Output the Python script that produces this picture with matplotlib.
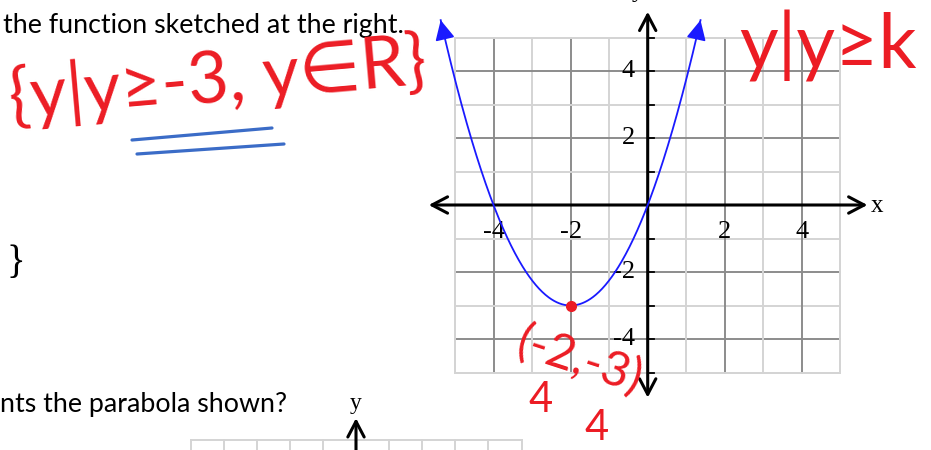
import numpy as np
import matplotlib.pyplot as plt
from matplotlib.lines import Line2D

# parabola y = a(x - h)^2 + k with vertex (-2, -3), passing through (0, 0) and (-4, 0)
h, k = -2, -3
a = 0.75
curve_x_ends = [-5.37, 1.37]

grid_ticks = list(range(-5, 6))
x_tick_labels = [-4, -2, 2, 4]
y_tick_labels = [4, 2, -2, -4]

red = '#ec1c24'
blue_pen = '#3b6cc7'
pen_font = ['Lato', 'DejaVu Sans']

W, H = 931, 450
fig = plt.figure(figsize=(W / 100, H / 100), dpi=100)

# pixel helper for figure-level text
def fx(x): return x / W
def fy(y): return 1 - y / H

# ---- main graph ----
ox, oy = 647.7, 205.0      # origin in pixels
ux, uy = 38.55, 33.5       # pixels per unit
ax = fig.add_axes([0, 0, 1, 1])
ax.set_xlim(-ox / ux, (W - ox) / ux)
ax.set_ylim((oy - H) / uy, oy / uy)
ax.axis('off')

for t in grid_ticks:
    if t == 0:
        continue
    c = '#8c8c8c' if t % 2 == 0 else '#d4d4d4'
    ax.plot([t, t], [-5, 5], color=c, lw=1.4, zorder=1)
    ax.plot([-5, 5], [t, t], color=c, lw=1.4, zorder=1)
ax.plot([-5, 5], [-5, -5], color='#d4d4d4', lw=1.4, zorder=1)
ax.plot([-5, 5], [5, 5], color='#d4d4d4', lw=1.4, zorder=1)
ax.plot([-5, -5], [-5, 5], color='#d4d4d4', lw=1.4, zorder=1)
ax.plot([5, 5], [-5, 5], color='#d4d4d4', lw=1.4, zorder=1)

axis_arrow = dict(arrowstyle='<->, head_length=0.8, head_width=0.42', lw=2.2,
                  color='black', mutation_scale=14, shrinkA=0, shrinkB=0)
ax.annotate('', xy=(-5.68, 0), xytext=(5.7, 0), arrowprops=axis_arrow, zorder=3)
ax.annotate('', xy=(0, -5.75), xytext=(0, 5.77), arrowprops=axis_arrow, zorder=3)

# small ticks on the y-axis
for t in grid_ticks:
    if t != 0:
        ax.plot([0, 0.16], [t, t], color='black', lw=1.3, zorder=3)

for t in x_tick_labels:
    ax.text(t, -0.8, str(t), family='Liberation Serif', fontsize=19,
            ha='center', va='center', zorder=4)
for t in y_tick_labels:
    ax.text(-0.33, t, str(t), family='Liberation Serif', fontsize=19,
            ha='right', va='center', zorder=4)
ax.text(5.95, -0.02, 'x', family='Liberation Serif', fontsize=18, ha='center', va='center')
ax.text(-0.25, oy / uy + 0.1, 'y', family='Liberation Serif', fontsize=18,
        ha='center', va='baseline')

xs = np.linspace(curve_x_ends[0], curve_x_ends[1], 400)
ys = a * (xs - h) ** 2 + k
ax.plot(xs, ys, color='#1a1aff', lw=1.3, zorder=5)
head = dict(arrowstyle='-|>, head_length=0.5, head_width=0.25', color='#1a1aff',
            lw=1.3, mutation_scale=24, shrinkA=0, shrinkB=0)
for xe, dx in [(curve_x_ends[0], 0.06), (curve_x_ends[1], -0.06)]:
    ax.annotate('', xy=(xe, a * (xe - h) ** 2 + k),
                xytext=(xe + dx, a * (xe + dx - h) ** 2 + k), arrowprops=head, zorder=5)

ax.plot(h, k, 'o', color=red, ms=7, zorder=6)

# ---- second graph, cut off at the bottom ----
ox2, top2, u2 = 356.0, 440.0, 33.1
ax2 = fig.add_axes([0, 0, 1, 1])
ax2.set_xlim(-ox2 / u2, (W - ox2) / u2)
ax2.set_ylim(5 + (top2 - H) / u2, 5 + top2 / u2)
ax2.axis('off')
ax2.patch.set_alpha(0)
for t in grid_ticks:
    if t != 0:
        ax2.plot([t, t], [3.5, 5], color='#d4d4d4', lw=1.4)
ax2.plot([-5, 5], [5, 5], color='#d4d4d4', lw=1.4)
ax2.annotate('', xy=(0, 5.66), xytext=(0, 3.5),
             arrowprops=dict(arrowstyle='->, head_length=0.8, head_width=0.42', lw=2.2,
                             color='black', mutation_scale=14, shrinkA=0, shrinkB=0))
ax2.text(0, 5 + (top2 - 403) / u2, 'y', family='Liberation Serif', fontsize=17,
         ha='center', va='center')

# ---- worksheet text ----
fig.text(fx(3), fy(33), 'the function sketched at the right.', family='Lato',
         fontsize=19.3, va='baseline')
fig.text(fx(0), fy(412), 'nts the parabola shown?', family='Lato',
         fontsize=19.3, va='baseline')
fig.text(fx(6), fy(264), '}', family='Liberation Serif', fontsize=28,
         ha='left', va='center')

# ---- pen annotations ----
fig.text(fx(218), fy(80), '{y|y≥-3, y∈R}', color=red, fontsize=51, rotation=5,
         ha='center', va='center', family=pen_font)
fig.text(fx(828), fy(46), 'y|y≥k', color=red, fontsize=54,
         ha='center', va='center', family=pen_font)
fig.text(fx(580), fy(360), '(-2,-3)', color=red, fontsize=35, rotation=-18,
         ha='center', va='center', family=pen_font)
fig.text(fx(541), fy(400), '4', color=red, fontsize=30, ha='center', va='center',
         family=pen_font)
fig.text(fx(597), fy(428), '4', color=red, fontsize=30, ha='center', va='center',
         family=pen_font)

fig.add_artist(Line2D([fx(132), fx(272)], [fy(140), fy(128)], color=blue_pen, lw=2.3,
                      solid_capstyle='round'))
fig.add_artist(Line2D([fx(137), fx(284)], [fy(154), fy(144)], color=blue_pen, lw=2.3,
                      solid_capstyle='round'))

fig.savefig('out.png', dpi=100)
